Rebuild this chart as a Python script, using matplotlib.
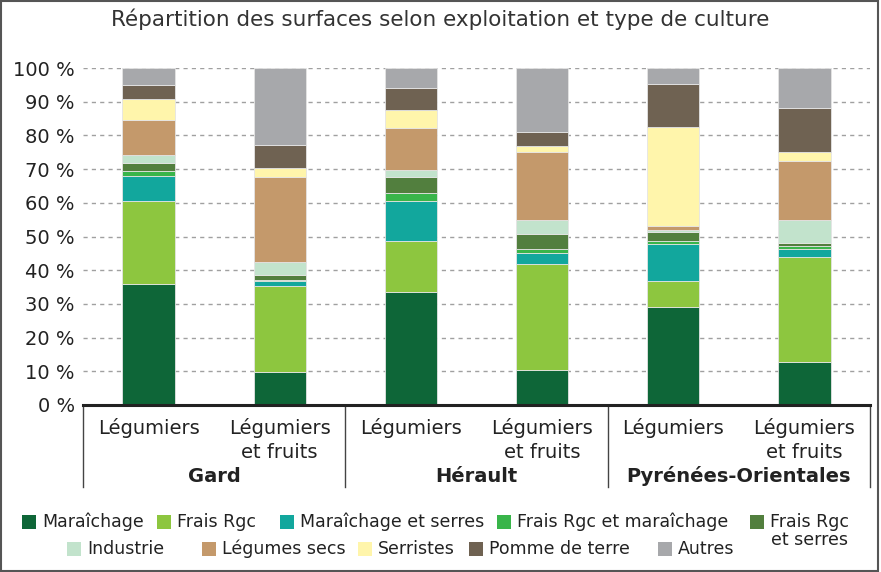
import matplotlib
matplotlib.use("Agg")
import matplotlib.pyplot as plt
import matplotlib.transforms as mtransforms
from matplotlib.patches import Rectangle
from matplotlib.lines import Line2D
import numpy as np

plt.rcParams['font.family'] = ['DejaVu Sans']

title = "Répartition des surfaces selon exploitation et type de culture"
groups = ["Gard", "Hérault", "Pyrénées-Orientales"]
bar_labels = ["Légumiers", "Légumiers\net fruits"] * 3

series_names = ["Maraîchage", "Frais Rgc", "Maraîchage et serres", "Frais Rgc et maraîchage",
                "Frais Rgc\net serres", "Industrie", "Légumes secs", "Serristes",
                "Pomme de terre", "Autres"]
colors = ["#0e6638", "#8dc63f", "#12a79d", "#39b54a", "#527f3e",
          "#c2e3cc", "#c4996b", "#fff5ab", "#6f6252", "#a7a8ab"]

maraichage        = [35.8,  9.9, 33.5, 10.4, 29.0, 12.9]
frais_rgc         = [24.7, 25.5, 15.2, 31.5,  7.9, 31.0]
maraichage_serres = [ 7.4,  1.4, 11.8,  3.3, 10.8,  2.3]
frais_rgc_mar     = [ 1.5,  0.2,  2.4,  1.0,  1.0,  1.0]
frais_rgc_serres  = [ 2.3,  1.7,  4.9,  4.4,  2.5,  1.0]
industrie         = [ 2.5,  3.6,  2.0,  4.4,  0.8,  6.8]
legumes_secs      = [10.3, 25.5, 12.3, 20.2,  1.2, 17.3]
serristes         = [ 6.4,  2.5,  5.3,  1.8, 29.3,  2.9]
pomme_de_terre    = [ 4.0,  6.8,  6.8,  4.1, 12.7, 12.8]
autres            = [ 5.1, 22.9,  5.8, 18.9,  4.8, 12.0]

series = [maraichage, frais_rgc, maraichage_serres, frais_rgc_mar, frais_rgc_serres,
          industrie, legumes_secs, serristes, pomme_de_terre, autres]

W, H = 881, 572
fig = plt.figure(figsize=(W / 100, H / 100), dpi=100)
ax = fig.add_axes([83 / W, 1 - 405 / H, (870 - 83) / W, (405 - 68) / H])

x = np.arange(len(bar_labels))
bottom = np.zeros(len(x))
for vals, col in zip(series, colors):
    v = np.array(vals)
    ax.bar(x, v, bottom=bottom, width=0.40, color=col, edgecolor="#e4e4e4",
           linewidth=0.6, zorder=3)
    bottom += v

ax.set_xlim(-0.5, 5.5)
ax.set_ylim(0, 100)
ax.set_yticks(np.arange(0, 101, 10))
ax.set_yticklabels([f"{v} %" for v in range(0, 101, 10)], fontsize=14, color="#222222")
ax.tick_params(axis="y", length=0, pad=6)
ax.tick_params(axis="x", length=0, labelbottom=False)
ax.grid(axis="y", color="#a0a0a0", linestyle=(0, (3, 3)), linewidth=1.0, zorder=0)
for s in ["top", "right", "left"]:
    ax.spines[s].set_visible(False)
ax.spines["bottom"].set_color("#222222")
ax.spines["bottom"].set_linewidth(2.2)
ax.spines["bottom"].set_zorder(5)

trans = mtransforms.blended_transform_factory(ax.transData, ax.transAxes)
hpx = 405 - 68
for i, lab in enumerate(bar_labels):
    lines = lab.split("\n")
    for j, ln in enumerate(lines):
        ax.text(i, -(428 + 24 * j - 405) / hpx, ln, transform=trans, ha="center",
                va="center", fontsize=14, color="#222222")
for g, name in enumerate(groups):
    ax.text(2 * g + 0.5, -(476 - 405) / hpx, name, transform=trans, ha="center",
            va="center", fontsize=14, fontweight="bold", color="#222222")
for xs in [-0.5, 1.5, 3.5, 5.5]:
    ax.add_line(Line2D([xs, xs], [0, -(487 - 405) / hpx], transform=trans,
                       color="#444444", linewidth=1.0, clip_on=False))

fig.text(440 / W, 1 - 19 / H, title, ha="center", va="center", fontsize=15.5,
         color="#333333")

# legend
legend_pos = [(22, 522), (157, 522), (280, 522), (497, 522), (750, 522),
              (67, 549), (202, 549), (358, 549), (469, 549), (658, 549)]
for (px, py), name, col in zip(legend_pos, series_names, colors):
    fig.patches.append(Rectangle((px / W, 1 - (py + 7) / H), 14 / W, 14 / H,
                                 transform=fig.transFigure, facecolor=col,
                                 edgecolor="none"))
    if "\n" in name:
        fig.text((px + 20) / W, 1 - (py - 9) / H, name, ha="left", va="top",
                 fontsize=12.5, color="#222222", multialignment="center",
                 linespacing=1.0)
    else:
        fig.text((px + 20) / W, 1 - py / H, name, ha="left", va="center",
                 fontsize=12.5, color="#222222")

fig.patches.append(Rectangle((1 / W, 1 / H), (W - 4) / W, (H - 2) / H,
                             transform=fig.transFigure, facecolor="none",
                             edgecolor="#555555", linewidth=1.5))

fig.savefig("out.png", dpi=100)
